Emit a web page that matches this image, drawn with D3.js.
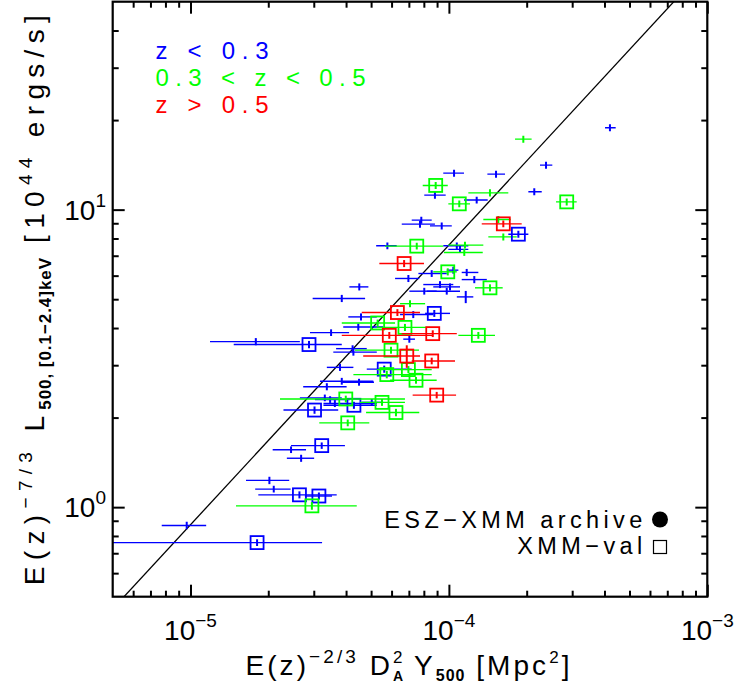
<!DOCTYPE html>
<html><head><meta charset="utf-8">
<script src="https://cdn.jsdelivr.net/npm/d3@7"></script>
<style>body{margin:0;background:#fff}svg{display:block}</style>
</head><body>
<svg id="c" width="738" height="685" font-family="Liberation Sans, Arial, sans-serif"></svg>
<script>
// ---- data: rows are [Y500, Ylo, Yhi, L500, dL] ----
const blueArchive = [
 [4.20e-4,4.02e-4,4.42e-4,18.85,0.5],[2.376e-4,2.252e-4,2.513e-4,14.11,0.38],
 [1.047e-4,0.951e-4,1.144e-4,13.27,0.36],[1.522e-4,1.409e-4,1.649e-4,13.16,0.36],
 [0.883e-4,0.803e-4,0.972e-4,11.19,0.3],[1.281e-4,1.144e-4,1.413e-4,10.77,0.29],
 [2.140e-4,2.030e-4,2.287e-4,11.48,0.31],[0.782e-4,0.718e-4,0.858e-4,9.22,0.25],
 [0.773e-4,0.657e-4,0.883e-4,8.94,0.24],[0.938e-4,0.845e-4,1.026e-4,8.82,0.24],
 [0.578e-4,0.523e-4,0.628e-4,7.56,0.2],[1.073e-4,0.951e-4,1.189e-4,7.56,0.2],
 [1.104e-4,0.995e-4,1.189e-4,7.35,0.2],[1.040e-4,0.981e-4,1.088e-4,6.26,0.17],
 [0.858e-4,0.762e-4,0.981e-4,6.10,0.16],[1.172e-4,1.121e-4,1.30e-4,6.15,0.17],
 [0.697e-4,0.619e-4,0.768e-4,5.87,0.16],[1.254e-4,1.121e-4,1.402e-4,5.82,0.16],
 [0.450e-4,0.412e-4,0.488e-4,5.50,0.15],[0.924e-4,0.796e-4,1.040e-4,5.60,0.15],
 [1.010e-4,0.870e-4,1.104e-4,5.50,0.15],[0.803e-4,0.703e-4,0.897e-4,5.32,0.14],
 [0.981e-4,0.821e-4,1.104e-4,5.32,0.14],[1.162e-4,1.073e-4,1.243e-4,5.09,0.24],
 [0.385e-4,0.297e-4,0.474e-4,5.03,0.14],[0.728e-4,0.647e-4,0.870e-4,4.44,0.12],
 [0.457e-4,0.408e-4,0.526e-4,4.36,0.12],[0.446e-4,0.390e-4,0.557e-4,4.03,0.11],
 [0.350e-4,0.290e-4,0.411e-4,3.86,0.1],[0.703e-4,0.666e-4,0.739e-4,3.67,0.1],
 [0.179e-4,0.119e-4,0.265e-4,3.60,0.1],[0.424e-4,0.366e-4,0.481e-4,3.41,0.09],
 [0.427e-4,0.357e-4,0.526e-4,3.32,0.09],[0.379e-4,0.337e-4,0.427e-4,2.95,0.08],
 [0.385e-4,0.317e-4,0.510e-4,2.65,0.07],[0.449e-4,0.385e-4,0.513e-4,2.63,0.07],
 [0.337e-4,0.273e-4,0.402e-4,2.54,0.07],[0.331e-4,0.265e-4,0.385e-4,2.33,0.06],
 [0.347e-4,0.303e-4,0.414e-4,2.30,0.06],[0.362e-4,0.327e-4,0.526e-4,2.23,0.06],
 [0.503e-4,0.460e-4,0.557e-4,2.25,0.06],[0.245e-4,0.208e-4,0.280e-4,1.56,0.04],
 [0.268e-4,0.236e-4,0.301e-4,1.46,0.04],[0.202e-4,0.164e-4,0.241e-4,1.23,0.035],
 [0.210e-4,0.178e-4,0.244e-4,1.15,0.03],[0.0967e-4,0.0774e-4,0.115e-4,0.868,0.025]
];
const blueVal = [
 [1.857e-4,1.698e-4,2.03e-4,8.27,0.22],[0.878e-4,0.809e-4,1.010e-4,4.48,0.12],
 [0.2875e-4,0.147e-4,0.385e-4,3.52,0.1],[0.562e-4,0.481e-4,0.718e-4,2.91,0.08],
 [0.429e-4,0.327e-4,0.526e-4,2.20,0.06],[0.302e-4,0.229e-4,0.373e-4,2.12,0.06],
 [0.322e-4,0.245e-4,0.396e-4,1.61,0.04],[0.264e-4,0.183e-4,0.368e-4,1.10,0.03],
 [0.314e-4,0.277e-4,0.353e-4,1.09,0.03],[0.181e-4,0.04e-4,0.323e-4,0.760,0.02]
];
const greenArchive = [
 [1.941e-4,1.803e-4,2.09e-4,17.26,0.47],[1.442e-4,1.189e-4,1.698e-4,11.39,0.31],
 [1.553e-4,1.359e-4,1.735e-4,9.27,0.25],[1.624e-4,1.421e-4,1.83e-4,8.10,0.22],
 [1.154e-4,0.995e-4,1.359e-4,7.60,0.2],[1.147e-4,0.957e-4,1.352e-4,7.18,0.19],
 [0.707e-4,0.647e-4,0.809e-4,4.83,0.13]
];
const greenVal = [
 [0.889e-4,0.792e-4,0.990e-4,12.06,0.33],[1.097e-4,0.995e-4,1.207e-4,10.46,0.28],
 [2.857e-4,2.598e-4,3.123e-4,10.62,0.29],[0.751e-4,0.566e-4,0.951e-4,7.54,0.2],
 [0.990e-4,0.870e-4,1.073e-4,6.18,0.17],[1.442e-4,1.262e-4,1.615e-4,5.46,0.15],
 [0.530e-4,0.385e-4,0.619e-4,4.16,0.11],[0.676e-4,0.526e-4,0.845e-4,4.02,0.11],
 [1.30e-4,1.088e-4,1.508e-4,3.78,0.1],[0.597e-4,0.433e-4,0.766e-4,3.37,0.09],
 [0.575e-4,0.427e-4,0.858e-4,2.79,0.08],[0.697e-4,0.526e-4,0.858e-4,2.90,0.08],
 [0.746e-4,0.592e-4,0.897e-4,2.67,0.07],[0.399e-4,0.222e-4,0.676e-4,2.31,0.06],
 [0.551e-4,0.453e-4,0.676e-4,2.25,0.06],[0.624e-4,0.478e-4,0.768e-4,2.08,0.06],
 [0.406e-4,0.315e-4,0.492e-4,1.92,0.05],[0.295e-4,0.150e-4,0.440e-4,1.01,0.03]
];
const redVal = [
 [1.624e-4,1.34e-4,1.913e-4,8.96,0.24],[0.671e-4,0.538e-4,0.801e-4,6.59,0.18],
 [0.632e-4,0.460e-4,0.773e-4,4.51,0.12],[0.588e-4,0.385e-4,0.870e-4,3.78,0.1],
 [0.866e-4,0.657e-4,1.073e-4,3.83,0.1],[0.687e-4,0.466e-4,0.773e-4,3.22,0.28],
 [0.858e-4,0.718e-4,1.056e-4,3.10,0.08],[0.897e-4,0.724e-4,1.066e-4,2.38,0.06]
];
// fitted relation L = fitNorm * (Y / fitPivot)^fitSlope
const fitNorm = 7.6, fitPivot = 1e-4, fitSlope = 0.94;
const xDomain = [5e-6, 1e-3], yDomain = [0.5, 50];
const xTickValues = [1e-5, 1e-4, 1e-3], xTickExps = ["−5", "−4", "−3"];
const yTickValues = [1, 10], yTickExps = ["0", "1"];
const legendLabels = ["z < 0.3", "0.3 < z < 0.5", "z > 0.5"];
const sampleLabels = ["ESZ−XMM archive", "XMM−val"];
const colors = {blue: "#0000ff", green: "#00ff00", red: "#ff0000"};

// ---- layout ----
const X0 = 112.7, X1 = 707.3, Y0 = 1.7, Y1 = 596.7;
const x = d3.scaleLog().domain(xDomain).range([X0, X1]);
const y = d3.scaleLog().domain(yDomain).range([Y1, Y0]);
const svg = d3.select("#c");
svg.append("rect").attr("width", 738).attr("height", 685).attr("fill", "#fff");
svg.append("defs").append("clipPath").attr("id", "clip").append("rect")
  .attr("x", X0).attr("y", Y0).attr("width", X1 - X0).attr("height", Y1 - Y0);
const plot = svg.append("g").attr("clip-path", "url(#clip)");

// fit line
plot.append("path")
  .datum(xDomain)
  .attr("d", d3.line().x(d => x(d)).y(d => y(fitNorm * Math.pow(d / fitPivot, fitSlope))))
  .attr("stroke", "#000").attr("stroke-width", 1.3).attr("fill", "none");

function drawSeries(rows, color, square) {
  const g = plot.append("g");
  const pts = g.selectAll("g").data(rows).join("g");
  pts.append("line")
    .attr("x1", d => x(d[1])).attr("x2", d => x(d[2]))
    .attr("y1", d => y(d[3])).attr("y2", d => y(d[3]))
    .attr("stroke", color).attr("stroke-width", 1.4);
  pts.append("line")
    .attr("x1", d => x(d[0])).attr("x2", d => x(d[0]))
    .attr("y1", d => y(d[3] - d[4])).attr("y2", d => y(d[3] + d[4]))
    .attr("stroke", color).attr("stroke-width", 2);
  if (square) {
    pts.append("rect")
      .attr("x", d => x(d[0]) - 6.5).attr("y", d => y(d[3]) - 6.5)
      .attr("width", 13).attr("height", 13)
      .attr("fill", "none").attr("stroke", color).attr("stroke-width", 1.8);
  }
}
drawSeries(blueArchive, colors.blue, false);
drawSeries(greenArchive, colors.green, false);
drawSeries(blueVal, colors.blue, true);
drawSeries(greenVal, colors.green, true);
drawSeries(redVal, colors.red, true);

// ---- axes (ticks on all four sides, pointing inward) ----
function minorTicks(dom) {
  const out = [];
  for (let e = Math.floor(Math.log10(dom[0])); e <= Math.ceil(Math.log10(dom[1])); e++)
    for (let m = 2; m <= 9; m++) { const v = m * Math.pow(10, e); if (v > dom[0] * 1.0001 && v < dom[1] * 0.9999) out.push(v); }
  return out;
}
const xMinor = minorTicks(xDomain), yMinor = minorTicks(yDomain);
function addAxis(axisFn, scale, tr, vals, size) {
  svg.append("g").attr("transform", tr)
    .call(axisFn(scale).tickValues(vals).tickSize(size).tickFormat(""))
    .call(g => g.select(".domain").remove())
    .call(g => g.selectAll("line").attr("stroke", "#000").attr("stroke-width", 2));
}
addAxis(d3.axisTop, x, `translate(0,${Y1})`, xTickValues, 12);
addAxis(d3.axisTop, x, `translate(0,${Y1})`, xMinor, 6);
addAxis(d3.axisBottom, x, `translate(0,${Y0})`, xTickValues, 12);
addAxis(d3.axisBottom, x, `translate(0,${Y0})`, xMinor, 6);
addAxis(d3.axisRight, y, `translate(${X0},0)`, yTickValues, 12);
addAxis(d3.axisRight, y, `translate(${X0},0)`, yMinor, 6);
addAxis(d3.axisLeft, y, `translate(${X1},0)`, yTickValues, 12);
addAxis(d3.axisLeft, y, `translate(${X1},0)`, yMinor, 6);
svg.append("rect").attr("x", X0).attr("y", Y0).attr("width", X1 - X0).attr("height", Y1 - Y0)
  .attr("fill", "none").attr("stroke", "#000").attr("stroke-width", 2.2);

// ---- rich text helper (segments laid out side by side; sub/superscripts) ----
function rich(segs, o) {
  const g = svg.append("g");
  const inner = g.append("g");
  function layout(extra) {
    inner.selectAll("*").remove();
    let cx = 0, lastStart = 0, n = 0;
    segs.forEach(s => {
      const start = s.stack ? lastStart : cx;
      const f = s.lsf === undefined ? 1 : s.lsf;
      const t = inner.append("text").attr("x", start).attr("y", s.dy || 0)
        .attr("font-size", s.fs).attr("font-weight", s.fw || "normal")
        .style("letter-spacing", (extra * f) + "px").attr("fill", o.fill || "#000").text(s.t);
      const w = t.node().getComputedTextLength();
      if (!s.stack) lastStart = start;
      cx = Math.max(cx, start + w);
      if (!s.stack) n += s.t.length * f;
    });
    return {w: cx, n};
  }
  let r = layout(0);
  if (o.width) r = layout((o.width - r.w) / Math.max(1, r.n - 1));
  const off = o.anchor === "middle" ? -r.w / 2 : o.anchor === "end" ? -r.w : 0;
  inner.attr("transform", `translate(${off},0)`);
  g.attr("transform", `translate(${o.x},${o.y})` + (o.rotate ? ` rotate(${o.rotate})` : ""));
  return g;
}

// tick labels
xTickValues.forEach((v, i) => rich([{t: "10", fs: 28}, {t: xTickExps[i], fs: 19, dy: -13}],
  {x: x(v), y: 640, anchor: "middle"}));
yTickValues.forEach((v, i) => rich([{t: "10", fs: 28}, {t: yTickExps[i], fs: 19, dy: -13}],
  {x: 106, y: y(v) + 10, anchor: "end"}));

// axis titles
rich([{t: "E(z)", fs: 28}, {t: "−2/3", fs: 19, dy: -12}, {t: "\u00a0D", fs: 28},
      {t: "2", fs: 17, dy: -12, lsf: 0}, {t: "A", fs: 14, dy: 6, fw: "bold", stack: true, lsf: 0},
      {t: "\u00a0Y", fs: 28}, {t: "500", fs: 16, dy: 6, fw: "bold", lsf: 0.3},
      {t: "\u00a0[Mpc", fs: 28}, {t: "2", fs: 17, dy: -12}, {t: "]", fs: 28}],
  {x: 409, y: 675, anchor: "middle", width: 324});
rich([{t: "E(z)", fs: 28}, {t: "−7/3", fs: 19, dy: -12}, {t: "\u00a0L", fs: 28},
      {t: "500, [0.1−2.4]keV", fs: 17, dy: 7, fw: "bold", lsf: 0.15},
      {t: "\u00a0[10", fs: 28}, {t: "44", fs: 19, dy: -12}, {t: "\u00a0ergs/s]", fs: 28}],
  {x: 44, y: 297, anchor: "middle", width: 570, rotate: -90});

// redshift legend
const legColors = [colors.blue, colors.green, colors.red];
const legWidths = [113, 210, 113];
const legBase = [59, 85.5, 113];
legendLabels.forEach((s, i) => rich([{t: s, fs: 24}],
  {x: 155.5, y: legBase[i], anchor: "start", width: legWidths[i], fill: legColors[i]}));

// sample legend
rich([{t: sampleLabels[0], fs: 23.5}], {x: 646.7, y: 528, anchor: "end", width: 258});
rich([{t: sampleLabels[1], fs: 23.5}], {x: 646.7, y: 554, anchor: "end", width: 125});
svg.append("circle").attr("cx", 660).attr("cy", 519.5).attr("r", 8).attr("fill", "#000");
svg.append("rect").attr("x", 653.5).attr("y", 540.5).attr("width", 13).attr("height", 13)
  .attr("fill", "none").attr("stroke", "#000").attr("stroke-width", 1.2);
</script>
</body></html>
